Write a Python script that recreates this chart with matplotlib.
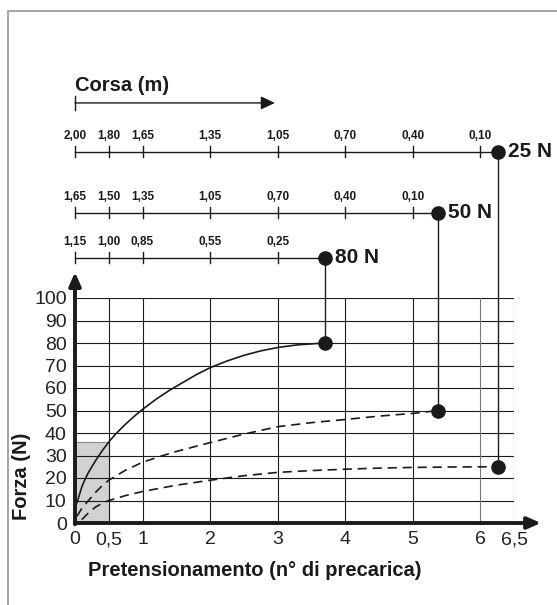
import matplotlib.pyplot as plt
from matplotlib.lines import Line2D
from matplotlib.patches import Rectangle

plt.rcParams['font.family'] = ['Liberation Sans', 'DejaVu Sans']

# DATA

x_ticks = [0, 0.5, 1, 2, 3, 4, 5, 6, 6.5]
x_tick_labels = ['0', '0,5', '1', '2', '3', '4', '5', '6', '6,5']
y_ticks = list(range(0, 101, 10))

# Force curves (pretensioning turns -> force N)
x_80 = [0.03, 0.06, 0.1, 0.15, 0.2, 0.3, 0.4, 0.5, 0.6, 0.75, 0.9, 1, 1.2, 1.4, 1.6, 1.8, 2, 2.25, 2.5, 2.75, 3, 3.3, 3.7]
y_80 = [9, 12, 16, 19.5, 22.5, 27.5, 32, 36, 39.5, 44, 48, 50.5, 55, 59, 62.5, 66, 69, 72, 74.5, 76.5, 78, 79.2, 80]

x_50 = [0.03, 0.1, 0.2, 0.3, 0.4, 0.5, 0.75, 1, 1.25, 1.5, 2, 2.5, 3, 3.5, 4, 4.5, 5, 5.38]
y_50 = [3, 6.5, 10, 13.5, 16.5, 19, 23.5, 27, 29.5, 31.8, 35.7, 39.5, 42.8, 44.6, 46, 47.5, 48.7, 50]

x_25 = [0.1, 0.2, 0.3, 0.4, 0.5, 0.75, 1, 1.5, 2, 2.5, 3, 3.5, 4, 4.5, 5, 5.6, 6.26]
y_25 = [1.5, 4.5, 7, 8.7, 10, 12.2, 14, 16.8, 19, 21, 22.5, 23.3, 23.9, 24.4, 24.7, 24.9, 25]

# Stroke scales (m) above the chart, one tick per grid column
scale_pos = [0, 0.5, 1, 2, 3, 4, 5, 6]
corsa_25 = ['2,00', '1,80', '1,65', '1,35', '1,05', '0,70', '0,40', '0,10']
corsa_50 = ['1,65', '1,50', '1,35', '1,05', '0,70', '0,40', '0,10']
corsa_80 = ['1,15', '1,00', '0,85', '0,55', '0,25']

shaded_box = (0.5, 36)

# FIGURE

fig = plt.figure(figsize=(5.57, 6.05), dpi=100)
ax = fig.add_axes([75 / 557, (605 - 523) / 605, (514 - 75) / 557, 225 / 605])
ax.set_xlim(0, 6.5)
ax.set_ylim(0, 100)

for spine in ax.spines.values():
	spine.set_visible(False)

ink = '#1a1a1a'

# grid
for y in y_ticks[1:]:
	ax.plot([0, 6.5], [y, y], color=ink, lw=0.8, zorder=1)
for x in x_ticks[1:]:
	ax.plot([x, x], [0, 100], color='#7a7a7a' if x >= 6 else ink, lw=0.8, zorder=1)

ax.add_patch(Rectangle((0, 0), shaded_box[0], shaded_box[1], facecolor='#d2d2d2', edgecolor='#8a8a8a', lw=0.8, zorder=0.5))

# axes with arrows
ax.annotate('', xy=(6.9, 0), xytext=(0, 0), annotation_clip=False,
	arrowprops=dict(arrowstyle='-|>,head_length=0.8,head_width=0.35', mutation_scale=10, lw=2.8, color=ink, shrinkA=0, shrinkB=0))
ax.annotate('', xy=(0, 111.5), xytext=(0, -0.6), annotation_clip=False,
	arrowprops=dict(arrowstyle='-|>,head_length=0.8,head_width=0.35', mutation_scale=10, lw=2.8, color=ink, shrinkA=0, shrinkB=0))

ax.set_xticks(x_ticks, x_tick_labels)
ax.set_yticks(y_ticks)
ax.tick_params(length=0, labelsize=14, labelcolor='#222222')
ax.tick_params(axis='x', pad=6)
ax.tick_params(axis='y', pad=6)

# curves
ax.plot(x_80, y_80, color=ink, lw=1.2, zorder=3)
ax.plot(x_50, y_50, color=ink, lw=1.2, ls=(0, (5.5, 3.5)), zorder=3)
ax.plot(x_25, y_25, color=ink, lw=1.2, ls=(0, (5.5, 3.5)), zorder=3)

# stroke scales
scales = [(165, corsa_25, x_25[-1], y_25[-1], '25 N'),
	(138, corsa_50, x_50[-1], y_50[-1], '50 N'),
	(118, corsa_80, x_80[-1], y_80[-1], '80 N')]

for level, labels, x_end, y_end, name in scales:
	ax.plot([0, x_end], [level, level], color=ink, lw=1, clip_on=False)
	for pos, label in zip(scale_pos, labels):
		ax.plot([pos, pos], [level - 2.4, level + 2.4], color=ink, lw=1, clip_on=False)
		ax.text(pos, level + 5.5, label, ha='center', va='baseline', fontsize=8.5, fontweight='bold', color=ink)
	ax.plot([x_end, x_end], [y_end, level], color=ink, lw=1, clip_on=False, zorder=3)
	ax.plot([x_end, x_end], [y_end, level], 'o', color=ink, markersize=9.5, clip_on=False, zorder=4)
	ax.text(x_end + 0.15, level, name, ha='left', va='center', fontsize=15, fontweight='bold', color=ink)

# Corsa arrow
ax.text(0, 194.5, 'Corsa (m)', ha='left', va='center', fontsize=14.5, fontweight='bold', color=ink)
ax.annotate('', xy=(2.96, 186.7), xytext=(0, 186.7), annotation_clip=False,
	arrowprops=dict(arrowstyle='-|>,head_length=0.85,head_width=0.4', mutation_scale=10, lw=1, color=ink, shrinkA=0, shrinkB=0))
ax.plot([0, 0], [183.5, 190], color=ink, lw=1, clip_on=False)

# axis titles
ax.text(-0.121, 0.207, 'Forza (N)', transform=ax.transAxes, rotation=90, ha='center', va='center', fontsize=14.5, fontweight='bold', color=ink)
ax.text(0.41, -0.209, 'Pretensionamento (n° di precarica)', transform=ax.transAxes, ha='center', va='center', fontsize=14.5, fontweight='bold', color=ink)

# outer frame (top and left only)
fig.add_artist(Line2D([8 / 557, 1], [1 - 11 / 605, 1 - 11 / 605], transform=fig.transFigure, color='#a8a8a8', lw=1.5))
fig.add_artist(Line2D([8 / 557, 8 / 557], [0, 1 - 11 / 605], transform=fig.transFigure, color='#a8a8a8', lw=1.5))

fig.savefig('out.png', dpi=100)
